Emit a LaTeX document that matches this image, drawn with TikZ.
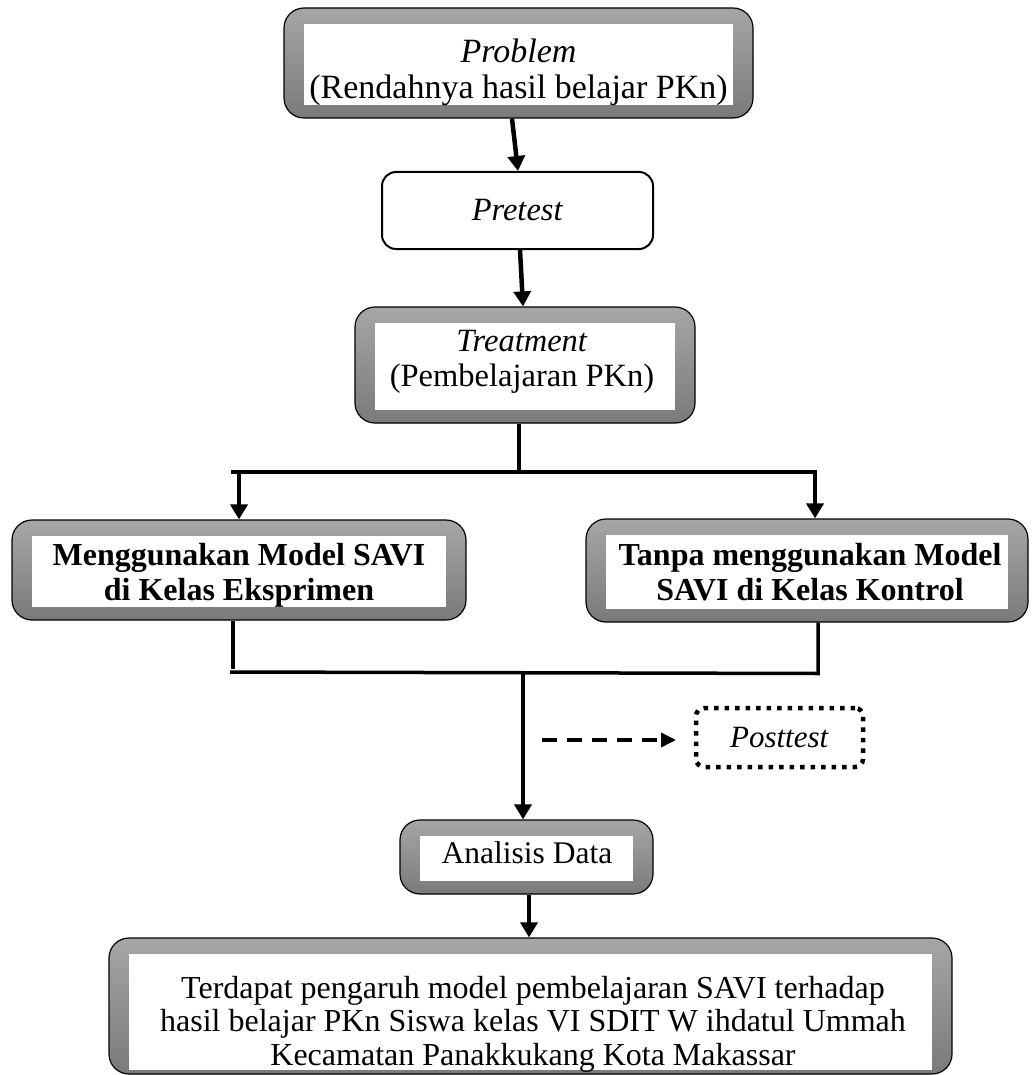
\documentclass[tikz,border=0pt]{standalone}
\usepackage{fontspec}
\setmainfont{Liberation Serif}
\usetikzlibrary{arrows.meta}
\definecolor{gtop}{HTML}{A6A6A6}
\definecolor{gbot}{HTML}{7A7A7A}
\tikzset{
  graybox/.style={draw=black, line width=1.2pt, rounded corners=20pt,
    top color=gtop, bottom color=gbot, inner sep=0pt,
    path picture={\fill[white, sharp corners]
      ([xshift=20pt,yshift=-16pt]path picture bounding box.north west) rectangle
      ([xshift=-20pt,yshift=#1]path picture bounding box.south east);}},
  graybox/.default=13pt,
  txt/.style={align=center, inner sep=0pt},
  whitebox/.style={draw=black, line width=2pt, rounded corners=14pt, fill=white,
    align=center, inner sep=0pt, font=\fontsize{32.5}{35}\selectfont},
  dotbox/.style={draw=black, line width=4.5pt, rounded corners=8pt,
    dash pattern=on 4.5pt off 6pt, align=center, inner sep=0pt,
    font=\fontsize{31}{35}\selectfont},
  arr/.style={line width=4.5pt, -{Triangle[length=15pt,width=17pt]}},
  ln/.style={line width=4.5pt},
  thinln/.style={line width=3.5pt},
  dasharr/.style={line width=3.5pt, dash pattern=on 15pt off 10pt,
    -{Triangle[length=15pt,width=14pt]}},
}
\begin{document}
\begin{tikzpicture}[x=1pt,y=-1pt]
\useasboundingbox (0,0) rectangle (1032,1075);
\clip (0,0) rectangle (1032,1075);

% boxes
\node[graybox, minimum width=469pt, minimum height=110pt] (prob) at (518.5,63) {};
\node[txt, font=\fontsize{34}{36}\selectfont] (probt) at (518.5,72)
  {\textit{Problem}\\(Rendahnya hasil belajar PKn)};

\node[whitebox, minimum width=271pt, minimum height=77pt] (pre) at (517.5,210.5)
  {\textit{Pretest}};

\node[graybox, minimum width=340pt, minimum height=116pt] (treat) at (525,365) {};
\node[txt, font=\fontsize{32.5}{35}\selectfont] (treatt) at (522,362)
  {\textit{Treatment}\\(Pembelajaran PKn)};

\node[graybox, minimum width=454pt, minimum height=100pt] (left) at (239,570) {};
\node[txt, font=\bfseries\fontsize{32}{35}\selectfont] (leftt) at (239,575)
  {Menggunakan Model SAVI\\di Kelas Eksprimen};

\node[graybox, minimum width=442pt, minimum height=103pt] (right) at (807,570.5) {};
\node[txt, font=\bfseries\fontsize{32}{35}\selectfont] (rightt) at (810,572)
  {Tanpa menggunakan Model\\SAVI di Kelas Kontrol};

\node[dotbox, minimum width=167pt, minimum height=59pt] (post) at (779.5,737.5)
  {\textit{Posttest}};

\node[graybox, minimum width=253pt, minimum height=74pt] (ana) at (526.5,857) {};
\node[txt, font=\fontsize{31.5}{35}\selectfont] (anat) at (527,853)
  {Analisis Data};

\node[graybox=4pt, minimum width=843pt, minimum height=136pt] (fin) at (530.5,1006) {};
\node[txt, font=\fontsize{32}{33.5}\selectfont] (fint) at (533,1024)
  {Terdapat pengaruh model pembelajaran SAVI terhadap\\hasil belajar PKn Siswa kelas VI SDIT W ihdatul Ummah\\Kecamatan Panakkukang Kota Makassar};

% junction coordinates
\coordinate (split) at (519,472);
\coordinate (splitL) at (233,472);
\coordinate (splitR) at (815,472);
\coordinate (mergeL) at (233,672);
\coordinate (mergeR) at (818,672);
\coordinate (merge) at (523,672);
\coordinate (dashS) at (542,740);
\coordinate (dashE) at (676,740);

% connectors
\draw[arr] ([xshift=-6.5pt]prob.south) -- ([xshift=0.5pt]pre.north);
\draw[arr] ([xshift=2.5pt]pre.south) -- ([xshift=-2pt]treat.north);
\draw[ln] (treat.south -| split) -- (split);
\draw[ln] ([xshift=-2pt]splitL) -- ([xshift=2pt]splitR);
\draw[arr] (splitL -| left.north) -- (left.north);
\draw[arr] (splitR) -- ([xshift=8pt]right.north);
\draw[thinln] (left.south -| mergeL) -- ([yshift=3pt]mergeL);
\draw[thinln] (right.south -| mergeR) -- ([yshift=-1.5pt]mergeR) -- ([xshift=-3pt]mergeL);
\draw[arr] (merge) -- ([xshift=-3.5pt]ana.north);
\draw[dasharr] (dashS) -- (dashE);
\draw[arr, line width=3.5pt] ([xshift=2.5pt]ana.south) -- ([xshift=-1.5pt]fin.north);
\end{tikzpicture}
\end{document}
